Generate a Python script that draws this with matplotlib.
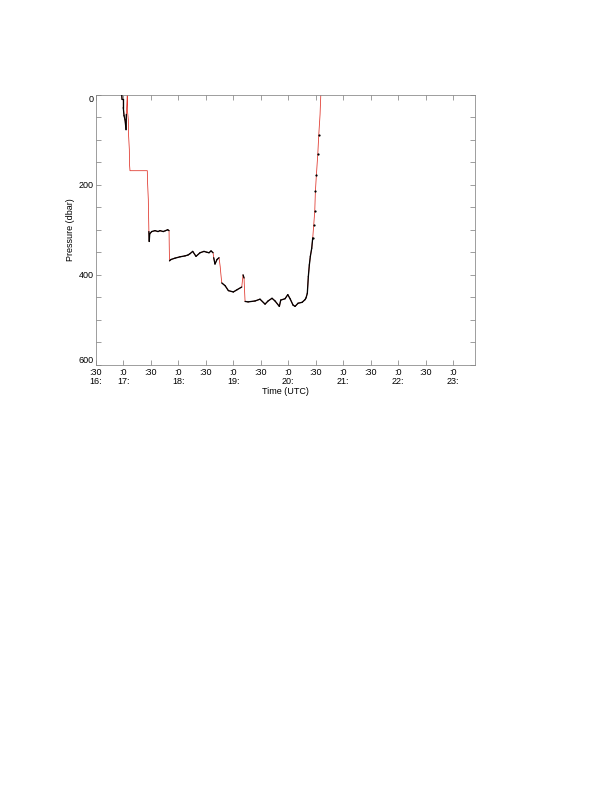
import numpy as np
import matplotlib
matplotlib.use("Agg")
import matplotlib.pyplot as plt

plt.rcParams['font.family'] = ['Liberation Sans', 'DejaVu Sans']

# time in minutes after 16:00 UTC, pressure in dbar
time_min = [58.4, 58.7, 60.1, 60.1, 60.9, 62.0, 63.1, 63.4, 64.2, 64.5, 64.8, 65.6,
            65.8, 66.7, 66.9, 67.4, 86.3, 86.5, 87.4, 87.6, 88.0,
            88.4, 88.9, 91.1, 94.7, 98.0, 100.1, 103.7, 106.1, 108.5, 110.0,
            110.2, 110.5, 112.1, 116.5, 122.0, 127.4, 130.7, 132.9, 135.8, 139.4,
            143.8, 148.1, 151.4, 153.6, 155.8, 158.0, 158.7, 160.1, 162.3, 164.5,
            165.8, 166.4, 167.5, 171.1, 174.7, 180.1, 184.2, 189.3, 190.7, 191.8,
            192.3, 192.9, 196.2, 203.8, 209.2, 214.7, 218.0, 222.3, 225.6, 230.3,
            231.8, 236.5, 239.5, 242.0, 245.2, 247.4, 250.7, 255.1, 258.3, 259.4,
            260.8, 261.9, 263.0, 264.1, 265.6, 266.7, 267.8, 268.9, 269.6, 270.7,
            272.2, 273.3, 274.7, 275.5]
pressure = [0, 11, 11, 29, 47, 56, 78, 44, 11, 0, 40, 56,
            89, 122, 156, 169, 169, 193, 233, 262, 304,
            326, 309, 304, 302, 304, 302, 304, 302, 300, 302,
            333, 369, 366, 363, 360, 358, 356, 353, 348, 359,
            351, 348, 350, 351, 347, 351, 362, 376, 366, 362,
            382, 396, 418, 424, 435, 438, 433, 427, 400, 407,
            433, 459, 460, 458, 454, 465, 458, 452, 458, 470,
            456, 453, 444, 453, 467, 470, 463, 461, 455, 451,
            441, 404, 378, 359, 341, 318, 289, 259, 215, 178,
            133, 89, 44, 0]

tick_minutes = [30, 60, 90, 120, 150, 180, 210, 240, 270, 300, 330, 360, 390, 420]
tick_labels = [":30\n16:", ":0\n17:", ":30", ":0\n18:", ":30", ":0\n19:", ":30",
               ":0\n20:", ":30", ":0\n21:", ":30", ":0\n22:", ":30", ":0\n23:"]
p_ticks = [0, 200, 400, 600]

t = np.array(time_min, dtype=float)
p = np.array(pressure, dtype=float)

fig = plt.figure(figsize=(612 / 72, 785 / 72), dpi=72)
ax = fig.add_axes([95.7 / 612, 1 - 365 / 785, (475.3 - 95.7) / 612, (365 - 94.5) / 785])

# full trace in red
ax.plot(t, p, color="#e0392f", lw=0.8, zorder=2)

# black (slowly varying) segments on top
dp = np.abs(np.diff(p))
dt = np.maximum(np.diff(t), 0.05)
rate = dp / dt
for i in range(len(t) - 1):
    early = t[i + 1] < 64
    drift = 88 <= t[i] and t[i + 1] <= 259.5 and (rate[i] < 15 or t[i] < 89)
    ascent = 259.0 <= t[i] and t[i + 1] <= 266.8
    if early or drift or ascent:
        ax.plot(t[i:i + 2], p[i:i + 2], color="black", lw=1.3, zorder=3,
                solid_capstyle="round")
# sample points on the upper ascent
asc = (t > 266) & (t < 274)
ax.plot(t[asc], p[asc], ls="none", marker="o", ms=1.2, color="black", zorder=4)

ax.set_xlim(30, 444)
ax.set_ylim(600, 0)
ax.set_xticks(tick_minutes)
ax.set_xticklabels(tick_labels, fontsize=9, va="top", linespacing=1.05)
ax.set_yticks(p_ticks)
ax.set_yticklabels([str(v) for v in p_ticks], fontsize=9)
ylabs = ax.get_yticklabels()
ylabs[0].set_va("top")
ylabs[-1].set_va("bottom")
ax.set_yticks(np.arange(0, 601, 50), minor=True)

for spine in ax.spines.values():
    spine.set_color("#888888")
    spine.set_linewidth(0.8)
ax.tick_params(axis="both", which="both", direction="in", top=True, right=True,
               color="#888888", width=0.8, length=5, pad=2)
ax.tick_params(axis="x", which="major", pad=3)

ax.set_xlabel("Time (UTC)", fontsize=9, labelpad=1)
ax.set_ylabel("Pressure (dbar)", fontsize=9, labelpad=4)

fig.savefig("out.png", dpi=72, facecolor="white")
